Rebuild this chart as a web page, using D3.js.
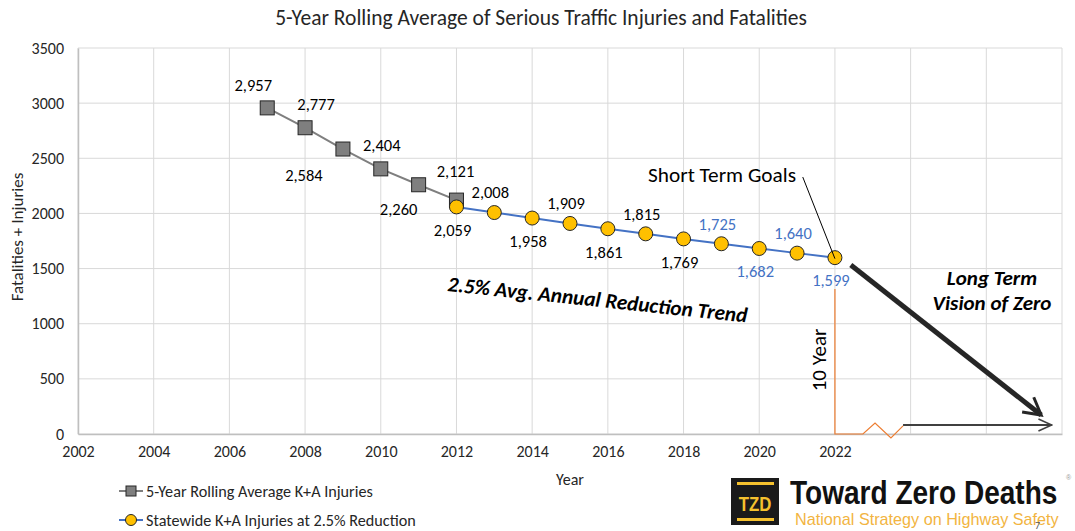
<!DOCTYPE html>
<html>
<head>
<meta charset="utf-8">
<script src="https://cdn.jsdelivr.net/npm/d3@7"></script>
<style>
body { margin: 0; background: #fff; }
text { font-family: Carlito, Lato, "Open Sans", sans-serif; }
</style>
</head>
<body>
<div id="chart"></div>
<script>
// chart values
var avgYears = [2007, 2008, 2009, 2010, 2011, 2012];
var avgValues = [2957, 2777, 2584, 2404, 2260, 2121];

var goalYears = [2012, 2013, 2014, 2015, 2016, 2017, 2018, 2019, 2020, 2021, 2022];
var goalValues = [2059, 2008, 1958, 1909, 1861, 1815, 1769, 1725, 1682, 1640, 1599];

var xTickLabels = [2002, 2004, 2006, 2008, 2010, 2012, 2014, 2016, 2018, 2020, 2022];
var xGrid = [2002, 2004, 2006, 2008, 2010, 2012, 2014, 2016, 2018, 2020, 2022, 2024, 2026, 2028];
var yTicks = [0, 500, 1000, 1500, 2000, 2500, 3000, 3500];

var seriesNames = ['5-Year Rolling Average K+A Injuries', 'Statewide K+A Injuries at 2.5% Reduction'];

// annotation shapes in data units [year, value]
var zeroArrow = [[2022.42, 1532], [2027.45, 172]];
var flatArrow = [[2023.8, 82], [2027.73, 82]];
var tenYearLine = [[2022, 1315], [2022, 0], [2022.74, 0], [2023.06, 100], [2023.48, -36], [2023.8, 73]];
var goalLeader = [[2021.15, 2330], [2022, 1590]];

var W = 1075, H = 531;

var svg = d3.select('#chart')
    .append('svg')
    .attr('width', W)
    .attr('height', H);

var x = d3.scaleLinear().domain([2002, 2028]).range([78, 1062]);
var y = d3.scaleLinear().domain([0, 3500]).range([434, 48]);

// gridlines
svg.append('g')
    .selectAll('line')
    .data(yTicks)
    .join('line')
    .attr('x1', x(2002)).attr('x2', x(2028))
    .attr('y1', d => y(d)).attr('y2', d => y(d))
    .attr('stroke', '#d9d9d9').attr('stroke-width', 1);

svg.append('g')
    .selectAll('line')
    .data(xGrid)
    .join('line')
    .attr('x1', d => x(d)).attr('x2', d => x(d))
    .attr('y1', y(0)).attr('y2', y(3500))
    .attr('stroke', '#d9d9d9').attr('stroke-width', 1);

// axes
var xAxis = svg.append('g')
    .attr('transform', 'translate(0,' + y(0) + ')')
    .call(d3.axisBottom(x).tickValues(xTickLabels).tickFormat(d => d).tickSize(0).tickPadding(12));
var yAxis = svg.append('g')
    .attr('transform', 'translate(' + x(2002) + ',0)')
    .call(d3.axisLeft(y).tickValues(yTicks).tickFormat(d => d).tickSize(0).tickPadding(14));

[xAxis, yAxis].forEach(function(a){
    a.select('.domain').attr('stroke', '#bfbfbf').attr('stroke-width', 1.5);
    a.selectAll('text').attr('fill', '#262626').style('font-size', '16px')
        .style('font-family', 'Carlito, Lato, "Open Sans", sans-serif');
});

// axis titles + chart title
svg.append('text')
    .attr('x', 541).attr('y', 25)
    .attr('text-anchor', 'middle')
    .attr('fill', '#262626')
    .style('font-size', '21.5px')
    .text('5-Year Rolling Average of Serious Traffic Injuries and Fatalities');

svg.append('text')
    .attr('x', x(2015)).attr('y', 485)
    .attr('text-anchor', 'middle')
    .attr('fill', '#262626')
    .style('font-size', '16px')
    .text('Year');

svg.append('g')
    .attr('transform', 'translate(23,237) rotate(-90)')
    .append('text')
    .attr('text-anchor', 'middle')
    .attr('fill', '#262626')
    .style('font-size', '17px')
    .text('Fatalities + Injuries');

// series lines
var line = d3.line().x(d => x(d[0])).y(d => y(d[1]));

svg.append('path')
    .attr('d', line(d3.zip(avgYears, avgValues)))
    .attr('fill', 'none')
    .attr('stroke', '#7f7f7f')
    .attr('stroke-width', 2);

svg.append('g')
    .selectAll('rect')
    .data(d3.zip(avgYears, avgValues))
    .join('rect')
    .attr('x', d => x(d[0]) - 7).attr('y', d => y(d[1]) - 7)
    .attr('width', 14).attr('height', 14)
    .attr('fill', '#7f7f7f')
    .attr('stroke', '#262626').attr('stroke-width', 1);

svg.append('path')
    .attr('d', line(d3.zip(goalYears, goalValues)))
    .attr('fill', 'none')
    .attr('stroke', '#4472c4')
    .attr('stroke-width', 2);

svg.append('g')
    .selectAll('circle')
    .data(d3.zip(goalYears, goalValues))
    .join('circle')
    .attr('cx', d => x(d[0])).attr('cy', d => y(d[1]))
    .attr('r', 7)
    .attr('fill', '#ffc000')
    .attr('stroke', '#262626').attr('stroke-width', 1);

// data labels
var fmt = d3.format(',');
var avgLabelOffsets = [[-14, -23], [11, -24], [-39, 26], [1, -24], [-20, 24], [-1, -29]];

svg.append('g')
    .selectAll('text')
    .data(d3.zip(avgYears, avgValues))
    .join('text')
    .attr('x', (d, i) => x(d[0]) + avgLabelOffsets[i][0])
    .attr('y', (d, i) => y(d[1]) + avgLabelOffsets[i][1])
    .attr('dy', '0.35em')
    .attr('text-anchor', 'middle')
    .attr('fill', '#000')
    .style('font-size', '16.5px')
    .text(d => fmt(d[1]));

svg.append('g')
    .selectAll('text')
    .data(d3.zip(goalYears, goalValues))
    .join('text')
    .attr('x', d => x(d[0]) - 4)
    .attr('y', (d, i) => y(d[1]) + (i % 2 == 0 ? 23 : -20))
    .attr('dy', '0.35em')
    .attr('text-anchor', 'middle')
    .attr('fill', d => d[0] >= 2019 ? '#4472c4' : '#000')
    .style('font-size', '16.5px')
    .text(d => fmt(d[1]));

// annotations
var defs = svg.append('defs');
defs.append('marker')
    .attr('id', 'bigHead')
    .attr('viewBox', '0 0 12 12')
    .attr('refX', 10).attr('refY', 6)
    .attr('markerWidth', 4.5).attr('markerHeight', 4.5)
    .attr('markerUnits', 'strokeWidth')
    .attr('orient', 'auto')
    .append('path')
    .attr('d', 'M1,1 L10,6 L1,11')
    .attr('fill', 'none')
    .attr('stroke', '#262626')
    .attr('stroke-width', 1.6);

defs.append('marker')
    .attr('id', 'smallHead')
    .attr('viewBox', '0 0 12 12')
    .attr('refX', 11).attr('refY', 6)
    .attr('markerWidth', 8).attr('markerHeight', 8)
    .attr('markerUnits', 'strokeWidth')
    .attr('orient', 'auto')
    .append('path')
    .attr('d', 'M1,1.5 L11,6 L1,10.5')
    .attr('fill', 'none')
    .attr('stroke', '#404040')
    .attr('stroke-width', 1.2);

svg.append('path')
    .attr('d', line(tenYearLine))
    .attr('fill', 'none')
    .attr('stroke', '#ed7d31')
    .attr('stroke-width', 1.2);

svg.append('path')
    .attr('d', line(zeroArrow))
    .attr('fill', 'none')
    .attr('stroke', '#262626')
    .attr('stroke-width', 5)
    .attr('marker-end', 'url(#bigHead)');

svg.append('path')
    .attr('d', line(flatArrow))
    .attr('fill', 'none')
    .attr('stroke', '#404040')
    .attr('stroke-width', 2)
    .attr('marker-end', 'url(#smallHead)');

svg.append('path')
    .attr('d', line(goalLeader))
    .attr('fill', 'none')
    .attr('stroke', '#000')
    .attr('stroke-width', 1);

svg.append('text')
    .attr('x', 722).attr('y', 182)
    .attr('text-anchor', 'middle')
    .attr('fill', '#000')
    .style('font-size', '21.3px')
    .text('Short Term Goals');

svg.append('g')
    .attr('transform', 'translate(826,360) rotate(-90)')
    .append('text')
    .attr('text-anchor', 'middle')
    .attr('fill', '#000')
    .style('font-size', '21px')
    .text('10 Year');

svg.append('g')
    .attr('transform', 'translate(447,291) rotate(6)')
    .append('text')
    .attr('fill', '#000')
    .style('font-size', '21.2px')
    .style('font-weight', 'bold')
    .style('font-style', 'italic')
    .text('2.5% Avg. Annual Reduction Trend');

var ltg = svg.append('text')
    .attr('text-anchor', 'middle')
    .attr('fill', '#000')
    .style('font-size', '21px')
    .style('font-weight', 'bold')
    .style('font-style', 'italic');
ltg.append('tspan').attr('x', 992).attr('y', 285).text('Long Term');
ltg.append('tspan').attr('x', 992).attr('y', 310).text('Vision of Zero');

// legend
var legend = svg.append('g').attr('transform', 'translate(119,491)');
var lg1 = legend.append('g');
lg1.append('line').attr('x1', 0).attr('x2', 24).attr('stroke', '#7f7f7f').attr('stroke-width', 2);
lg1.append('rect').attr('x', 7).attr('y', -5).attr('width', 10).attr('height', 10)
    .attr('fill', '#7f7f7f').attr('stroke', '#262626');
lg1.append('text').attr('x', 27).attr('dy', '0.35em').attr('fill', '#262626')
    .style('font-size', '16.2px').text(seriesNames[0]);

var lg2 = legend.append('g').attr('transform', 'translate(0,29)');
lg2.append('line').attr('x1', 0).attr('x2', 24).attr('stroke', '#4472c4').attr('stroke-width', 2);
lg2.append('circle').attr('cx', 12).attr('r', 5.5)
    .attr('fill', '#ffc000').attr('stroke', '#262626');
lg2.append('text').attr('x', 27).attr('dy', '0.35em').attr('fill', '#262626')
    .style('font-size', '16.2px').text(seriesNames[1]);

// TZD logo
var logo = svg.append('g');
logo.append('rect').attr('x', 731).attr('y', 478).attr('width', 48).attr('height', 47).attr('fill', '#1a1a1a');
logo.append('rect').attr('x', 737).attr('y', 482).attr('width', 37).attr('height', 3).attr('fill', '#f5c12e');
logo.append('rect').attr('x', 737).attr('y', 518).attr('width', 37).attr('height', 3).attr('fill', '#f5c12e');
logo.append('g')
    .attr('transform', 'translate(755,511) scale(0.8,1)')
    .append('text')
    .attr('text-anchor', 'middle').attr('fill', '#f5c12e')
    .style('font-family', '"Liberation Sans", Arial, sans-serif')
    .style('font-weight', 'bold').style('font-size', '21px')
    .text('TZD');
logo.append('g')
    .attr('transform', 'translate(790,504) scale(0.85,1)')
    .append('text')
    .attr('fill', '#111')
    .style('font-family', '"Liberation Sans", Arial, sans-serif')
    .style('font-weight', 'bold').style('font-size', '33px')
    .text('Toward Zero Deaths');
logo.append('text').attr('x', 1066).attr('y', 480)
    .attr('fill', '#999')
    .style('font-family', '"Liberation Sans", Arial, sans-serif')
    .style('font-size', '7px')
    .text('®');
logo.append('text').attr('x', 795).attr('y', 525)
    .attr('fill', '#f2b441')
    .style('font-family', '"Liberation Sans", Arial, sans-serif')
    .style('font-size', '16.2px')
    .text('National Strategy on Highway Safety');
logo.append('text').attr('x', 1035).attr('y', 529)
    .attr('fill', '#555')
    .style('font-size', '10px')
    .text('7');
</script>
</body>
</html>
